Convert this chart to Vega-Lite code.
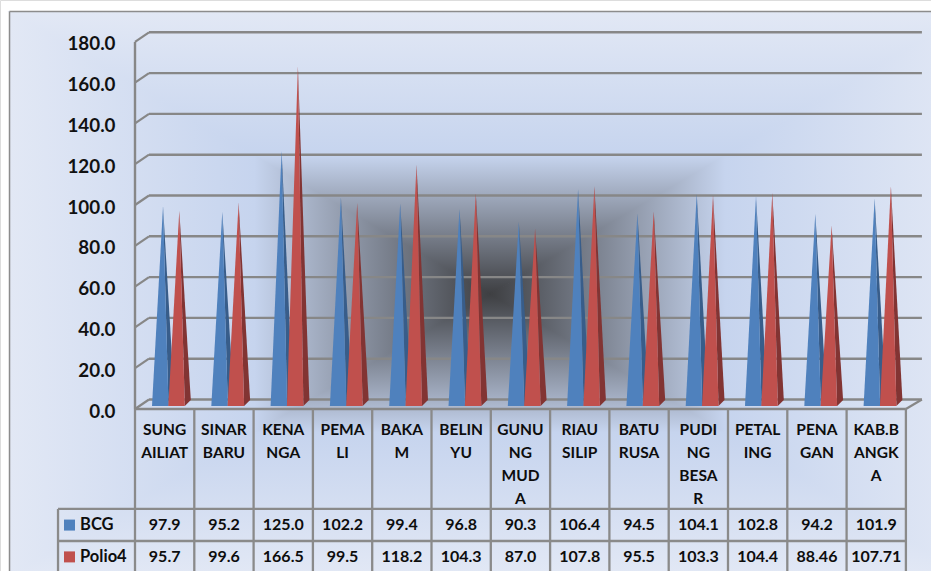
{
"$schema":"https://vega.github.io/schema/vega-lite/v6.json",
"width":931,"height":571,"padding":0,"autosize":"none","background":"#ffffff",
"datasets":{
"cones":[
{"col":0,"name":"SUNG\nAILIAT","series":"BCG","value":97.9,"label":"97.9"},{"col":0,"name":"SUNG\nAILIAT","series":"Polio4","value":95.7,"label":"95.7"},
{"col":1,"name":"SINAR\nBARU","series":"BCG","value":95.2,"label":"95.2"},{"col":1,"name":"SINAR\nBARU","series":"Polio4","value":99.6,"label":"99.6"},
{"col":2,"name":"KENA\nNGA","series":"BCG","value":125.0,"label":"125.0"},{"col":2,"name":"KENA\nNGA","series":"Polio4","value":166.5,"label":"166.5"},
{"col":3,"name":"PEMA\nLI","series":"BCG","value":102.2,"label":"102.2"},{"col":3,"name":"PEMA\nLI","series":"Polio4","value":99.5,"label":"99.5"},
{"col":4,"name":"BAKA\nM","series":"BCG","value":99.4,"label":"99.4"},{"col":4,"name":"BAKA\nM","series":"Polio4","value":118.2,"label":"118.2"},
{"col":5,"name":"BELIN\nYU","series":"BCG","value":96.8,"label":"96.8"},{"col":5,"name":"BELIN\nYU","series":"Polio4","value":104.3,"label":"104.3"},
{"col":6,"name":"GUNU\nNG\nMUD\nA","series":"BCG","value":90.3,"label":"90.3"},{"col":6,"name":"GUNU\nNG\nMUD\nA","series":"Polio4","value":87.0,"label":"87.0"},
{"col":7,"name":"RIAU\nSILIP","series":"BCG","value":106.4,"label":"106.4"},{"col":7,"name":"RIAU\nSILIP","series":"Polio4","value":107.8,"label":"107.8"},
{"col":8,"name":"BATU\nRUSA","series":"BCG","value":94.5,"label":"94.5"},{"col":8,"name":"BATU\nRUSA","series":"Polio4","value":95.5,"label":"95.5"},
{"col":9,"name":"PUDI\nNG\nBESA\nR","series":"BCG","value":104.1,"label":"104.1"},{"col":9,"name":"PUDI\nNG\nBESA\nR","series":"Polio4","value":103.3,"label":"103.3"},
{"col":10,"name":"PETAL\nING","series":"BCG","value":102.8,"label":"102.8"},{"col":10,"name":"PETAL\nING","series":"Polio4","value":104.4,"label":"104.4"},
{"col":11,"name":"PENA\nGAN","series":"BCG","value":94.2,"label":"94.2"},{"col":11,"name":"PENA\nGAN","series":"Polio4","value":88.46,"label":"88.46"},
{"col":12,"name":"KAB.B\nANGK\nA","series":"BCG","value":101.9,"label":"101.9"},{"col":12,"name":"KAB.B\nANGK\nA","series":"Polio4","value":107.71,"label":"107.71"}
],
"ticks":[{"v":0},{"v":20},{"v":40},{"v":60},{"v":80},{"v":100},{"v":120},{"v":140},{"v":160},{"v":180}],
"edges":[{"k":0},{"k":1},{"k":2},{"k":3},{"k":4},{"k":5},{"k":6},{"k":7},{"k":8},{"k":9},{"k":10},{"k":11},{"k":12},{"k":13}],
"legendRows":[{"series":"BCG","row":-56.9},{"series":"Polio4","row":-72.5}],
"bg":[
{"part":"top","x":-2.116,"y":194.85,"y2":194.85},{"part":"top","x":5.986,"y":194.85,"y2":56.4},{"part":"top","x":14.08,"y":194.85,"y2":194.85},
{"part":"bottom","x":-2.116,"y":-81.9,"y2":-81.9},{"part":"bottom","x":5.986,"y":56.4,"y2":-81.9},{"part":"bottom","x":14.08,"y":-81.9,"y2":-81.9},
{"part":"left","x":-2.116,"y":194.85,"y2":-81.9},{"part":"left","x":5.986,"y":56.4,"y2":56.4},
{"part":"right","x":5.986,"y":56.4,"y2":56.4},{"part":"right","x":14.08,"y":194.85,"y2":-81.9}
]
},
"layer":[
{"data":{"name":"bg"},"transform":[{"filter":"datum.part=='top'"}],"mark":{"type":"area","clip":true,"strokeWidth":1.2,"stroke":{"gradient":"linear","x1":0,"y1":0,"x2":0,"y2":1,"stops":[{"offset":0,"color":"#e2e8f5"},{"offset":0.51,"color":"#c6d4ee"},{"offset":1,"color":"#3e3f42"}]},"fill":{"gradient":"linear","x1":0,"y1":0,"x2":0,"y2":1,"stops":[{"offset":0,"color":"#e2e8f5"},{"offset":0.51,"color":"#c6d4ee"},{"offset":1,"color":"#3e3f42"}]}},
 "encoding":{"x":{"field":"x","type":"quantitative","axis":null,"scale":{"domain":[-2.2766,13.4233],"nice":false,"zero":false}},"y":{"field":"y","type":"quantitative","stack":null,"scale":{"domain":[-79.41,200.49],"nice":false,"zero":false},"axis":{"values":[0,20,40,60,80,100,120,140,160,180],"format":".1f","title":null,"domain":false,"ticks":false,"grid":false,"offset":-119,"labelPadding":4,"labelOffset":2,"labelFont":"Lato","labelFontWeight":"bold","labelFontSize":18.8,"labelColor":"#111111","zindex":1,"labelOverlap":false,"labelBound":false,"labelFlush":false}},"y2":{"field":"y2"}}},
{"data":{"name":"bg"},"transform":[{"filter":"datum.part=='bottom'"}],"mark":{"type":"area","clip":true,"strokeWidth":1.2,"stroke":{"gradient":"linear","x1":0,"y1":1,"x2":0,"y2":0,"stops":[{"offset":0,"color":"#e2e8f5"},{"offset":0.51,"color":"#c6d4ee"},{"offset":1,"color":"#3e3f42"}]},"fill":{"gradient":"linear","x1":0,"y1":1,"x2":0,"y2":0,"stops":[{"offset":0,"color":"#e2e8f5"},{"offset":0.51,"color":"#c6d4ee"},{"offset":1,"color":"#3e3f42"}]}},
 "encoding":{"x":{"field":"x","type":"quantitative"},"y":{"field":"y","type":"quantitative","stack":null},"y2":{"field":"y2"}}},
{"data":{"name":"bg"},"transform":[{"filter":"datum.part=='left'"}],"mark":{"type":"area","clip":true,"strokeWidth":1.2,"stroke":{"gradient":"linear","x1":0,"y1":0,"x2":1,"y2":0,"stops":[{"offset":0,"color":"#e2e8f5"},{"offset":0.51,"color":"#c6d4ee"},{"offset":1,"color":"#3e3f42"}]},"fill":{"gradient":"linear","x1":0,"y1":0,"x2":1,"y2":0,"stops":[{"offset":0,"color":"#e2e8f5"},{"offset":0.51,"color":"#c6d4ee"},{"offset":1,"color":"#3e3f42"}]}},
 "encoding":{"x":{"field":"x","type":"quantitative"},"y":{"field":"y","type":"quantitative","stack":null},"y2":{"field":"y2"}}},
{"data":{"name":"bg"},"transform":[{"filter":"datum.part=='right'"}],"mark":{"type":"area","clip":true,"strokeWidth":1.2,"stroke":{"gradient":"linear","x1":1,"y1":0,"x2":0,"y2":0,"stops":[{"offset":0,"color":"#e2e8f5"},{"offset":0.51,"color":"#c6d4ee"},{"offset":1,"color":"#3e3f42"}]},"fill":{"gradient":"linear","x1":1,"y1":0,"x2":0,"y2":0,"stops":[{"offset":0,"color":"#e2e8f5"},{"offset":0.51,"color":"#c6d4ee"},{"offset":1,"color":"#3e3f42"}]}},
 "encoding":{"x":{"field":"x","type":"quantitative"},"y":{"field":"y","type":"quantitative","stack":null},"y2":{"field":"y2"}}},

{"data":{"name":"ticks"},"transform":[{"filter":"datum.v==0"}],"mark":{"type":"rule","color":"#8c8c8c","strokeWidth":1.5},"encoding":{"x":{"datum":-2.116},"y":{"datum":194.85},"y2":{"datum":-79.41}}},
{"data":{"name":"ticks"},"transform":[{"filter":"datum.v==0"}],"mark":{"type":"rule","color":"#8c8c8c","strokeWidth":1.5},"encoding":{"x":{"datum":-2.116},"x2":{"datum":13.4233},"y":{"datum":194.85}}},

{"data":{"name":"ticks"},"transform":[{"calculate":"datum.v+4.66","as":"vb"}],"mark":{"type":"rule","color":"#878787","strokeWidth":2.4},"encoding":{"x":{"datum":0.236},"x2":{"datum":13.27},"y":{"field":"vb","type":"quantitative"}}},
{"data":{"name":"ticks"},"transform":[{"calculate":"datum.v+4.66","as":"vb"}],"mark":{"type":"rule","color":"#878787","strokeWidth":2.2},"encoding":{"x":{"datum":0},"x2":{"datum":0.236},"y":{"field":"v","type":"quantitative"},"y2":{"field":"vb"}}},
{"data":{"name":"ticks"},"transform":[{"filter":"datum.v==0"},{"calculate":"datum.v+4.66","as":"vb"}],"mark":{"type":"rule","color":"#878787","strokeWidth":2.2},"encoding":{"x":{"datum":13},"x2":{"datum":13.27},"y":{"field":"v","type":"quantitative"},"y2":{"field":"vb"}}},
{"data":{"name":"ticks"},"transform":[{"filter":"datum.v==0"}],"mark":{"type":"rule","color":"#878787","strokeWidth":2.5},"encoding":{"x":{"datum":0},"x2":{"datum":13},"y":{"field":"v","type":"quantitative"}}},
{"data":{"name":"ticks"},"transform":[{"filter":"datum.v==0"}],"mark":{"type":"rule","color":"#878787","strokeWidth":2.4},"encoding":{"x":{"datum":0},"y":{"datum":0},"y2":{"datum":179.9}}},

{"data":{"name":"cones"},
 "transform":[
  {"calculate":"[{f:'front',d:0,a:0,c:0,a2:0,c2:0},{f:'front',d:11,a:1,c:0,a2:0,c2:0},{f:'front',d:16.5,a:0,c:0,a2:0,c2:0},{f:'side',d:11,a:1,c:0,a2:1,c2:0},{f:'side',d:16.5,a:0.522,c:1.405,a2:0,c2:0},{f:'side',d:22.5,a:0,c:2.94,a2:0,c2:2.94}]","as":"pts"},
  {"flatten":["pts"]},
  {"calculate":"datum.col+((datum.series=='BCG'?17:33.3)+datum.pts.d)/59.3","as":"px"},
  {"calculate":"1.47+datum.pts.a*datum.value+datum.pts.c","as":"py"},
  {"calculate":"1.47+datum.pts.a2*datum.value+datum.pts.c2","as":"py2"},
  {"calculate":"datum.pts.f","as":"face"}
 ],
 "encoding":{"x":{"field":"px","type":"quantitative"},"y":{"field":"py","type":"quantitative","stack":null},"y2":{"field":"py2"},"detail":{"field":"col"}},
 "layer":[
  {"transform":[{"filter":"datum.series=='BCG'&&datum.face=='side'"}],"mark":{"type":"area","color":"#385d8a"}},
  {"transform":[{"filter":"datum.series=='BCG'&&datum.face=='front'"}],"mark":{"type":"area","color":"#4f81bd"}},
  {"transform":[{"filter":"datum.series=='Polio4'&&datum.face=='side'"}],"mark":{"type":"area","color":"#823433"}},
  {"transform":[{"filter":"datum.series=='Polio4'&&datum.face=='front'"}],"mark":{"type":"area","color":"#c0504d"}}
 ]},

{"data":{"name":"edges"},"mark":{"type":"rule","color":"#8a8a8a","strokeWidth":2.3},"encoding":{"x":{"field":"k","type":"quantitative"},"y":{"datum":0},"y2":{"datum":-79.41}}},
{"data":{"name":"legendRows"},"mark":{"type":"rule","color":"#8a8a8a","strokeWidth":2.3},"encoding":{"x":{"datum":-1.298},"x2":{"datum":13},"y":{"field":"line","type":"quantitative"}},"transform":[{"calculate":"datum.series=='BCG'?-49:-64.7","as":"line"}]},
{"data":{"name":"ticks"},"transform":[{"filter":"datum.v==0"}],"mark":{"type":"rule","color":"#8a8a8a","strokeWidth":2.3},"encoding":{"x":{"datum":-1.298},"y":{"datum":-49},"y2":{"datum":-79.41}}},

{"data":{"name":"cones"},"transform":[{"filter":"datum.series=='BCG'"},{"calculate":"datum.col+0.5","as":"cx"}],"mark":{"type":"text","lineBreak":"\n","baseline":"top","align":"center","font":"Lato","fontWeight":"bold","fontSize":15.5,"lineHeight":22.7,"color":"#0d0d0d"},"encoding":{"x":{"field":"cx","type":"quantitative"},"y":{"datum":-7.1},"text":{"field":"name"}}},
{"data":{"name":"cones"},"transform":[{"calculate":"datum.col+0.5","as":"cx"},{"calculate":"datum.series=='BCG'?-56.9:-72.5","as":"row"}],"mark":{"type":"text","baseline":"middle","align":"center","font":"Lato","fontWeight":"bold","fontSize":16,"color":"#0d0d0d"},"encoding":{"x":{"field":"cx","type":"quantitative"},"y":{"field":"row","type":"quantitative"},"text":{"field":"label"}}},
{"data":{"name":"legendRows"},"mark":{"type":"point","shape":"square","filled":true,"size":121,"opacity":1},"encoding":{"x":{"datum":-1.105},"y":{"field":"row","type":"quantitative"},"color":{"field":"series","type":"nominal","legend":null,"scale":{"domain":["BCG","Polio4"],"range":["#4f81bd","#c0504d"]}}}},
{"data":{"name":"legendRows"},"mark":{"type":"text","baseline":"middle","align":"left","font":"Lato","fontWeight":"bold","fontSize":16.5,"color":"#0d0d0d"},"encoding":{"x":{"datum":-0.927},"y":{"field":"row","type":"quantitative"},"text":{"field":"series"}}}
]
}
